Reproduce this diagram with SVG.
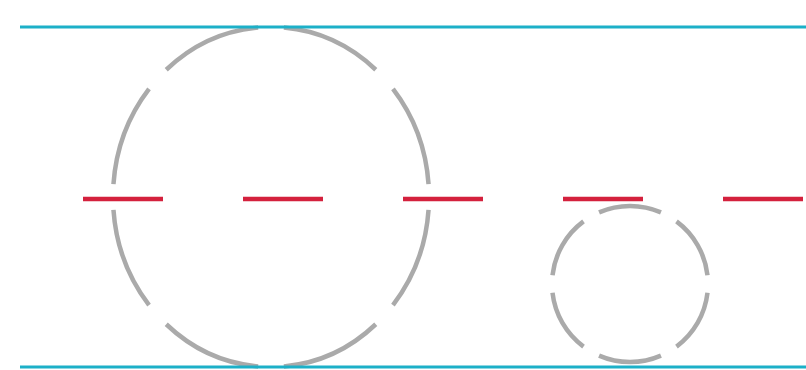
<svg xmlns="http://www.w3.org/2000/svg" width="806" height="370" viewBox="0 0 806 370">
  <style>
    .ring { fill: none; stroke: #aaaaaa; stroke-width: 4.5; }
    .rail { stroke: #1cb0c8; stroke-width: 3; fill: none; }
    .axis { stroke: #d4213d; stroke-width: 4.5; fill: none; stroke-dasharray: 80 80; }
  </style>
  <rect width="806" height="370" fill="#ffffff"/>
  <g id="large-circle">
    <ellipse class="ring" cx="271" cy="197" rx="158" ry="170" pathLength="800" stroke-dasharray="80 20" stroke-dashoffset="90"/>
  </g>
  <g id="small-circle">
    <circle class="ring" cx="630" cy="284" r="78" pathLength="600" stroke-dasharray="78 22" stroke-dashoffset="89"/>
  </g>
  <g id="connectors">
    <line class="rail" x1="20" y1="27" x2="806" y2="27"/>
    <line class="rail" x1="20" y1="367" x2="806" y2="367"/>
    <line class="axis" x1="83" y1="199" x2="806" y2="199"/>
  </g>
</svg>
